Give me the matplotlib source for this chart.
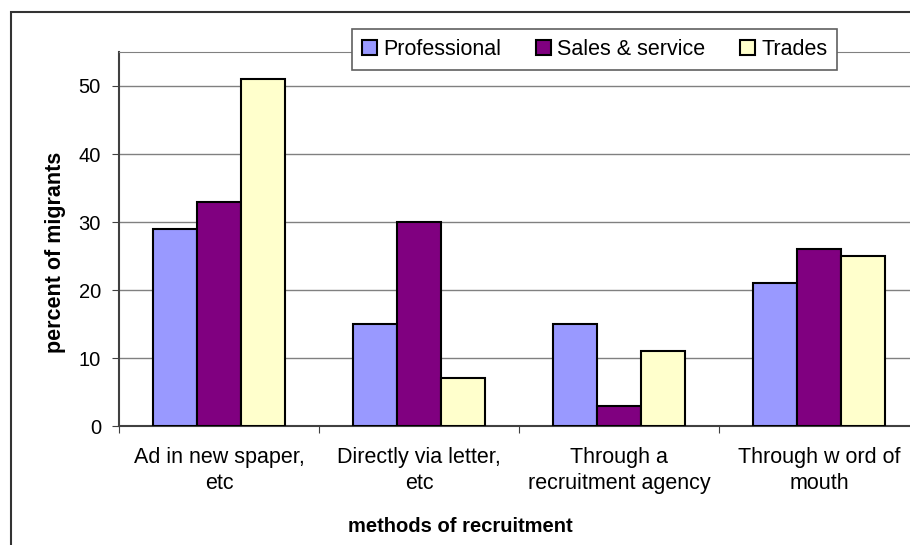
import numpy as np
import matplotlib.pyplot as plt
from matplotlib.patches import Rectangle

plt.rcParams['font.family'] = ['Liberation Sans', 'DejaVu Sans']

metodos = ['Ad in new spaper,\netc', 'Directly via letter,\netc',
           'Through a\nrecruitment agency', 'Through w ord of\nmouth']
series = ['Professional', 'Sales & service', 'Trades']
professional = [29, 15, 15, 21]
sales_service = [33, 30, 3, 26]
trades = [51, 7, 11, 25]
cores = ['#9999FF', '#800080', '#FFFFCC']

fig = plt.figure(figsize=(9.1, 5.45), dpi=100)
ax = fig.add_axes([0.1308, 0.2183, 0.8791, 0.6863])

x = np.arange(len(metodos)) + 0.5
largura = 0.22
for i, (nome, valores) in enumerate(zip(series, [professional, sales_service, trades])):
    ax.bar(x + (i - 1) * largura, valores, largura, color=cores[i],
           edgecolor='black', linewidth=1.5, label=nome, zorder=3)

ax.set_xlim(0, 4)
ax.set_ylim(0, 55)
ax.set_yticks(range(0, 51, 10))
ax.yaxis.grid(True, color='#808080', linewidth=1)
ax.set_axisbelow(True)

# ticks nos limites das categorias, rótulos no centro
ax.set_xticks(range(0, 5))
ax.set_xticklabels([])
ax.set_xticks(x, minor=True)
ax.set_xticklabels(metodos, minor=True, fontsize=15.5, linespacing=1.35)
ax.tick_params(axis='x', which='minor', length=0, pad=15)
ax.tick_params(axis='x', which='major', length=5, color='#404040', direction='out')
ax.tick_params(axis='y', length=5, color='#404040', labelsize=14.5, pad=8)

ax.spines['right'].set_visible(False)
ax.spines['top'].set_color('#808080')
ax.spines['left'].set_color('#404040')
ax.spines['left'].set_linewidth(1.5)
ax.spines['bottom'].set_color('#404040')
ax.spines['bottom'].set_linewidth(1.5)

fig.text(55 / 910, 1 - 252 / 545, 'percent of migrants', rotation=90,
         fontsize=15.5, fontweight='bold', ha='center', va='center')
fig.text(460 / 910, 1 - 527 / 545, 'methods of recruitment',
         fontsize=14.5, fontweight='bold', ha='center', va='center')

leg = fig.legend(loc='center', bbox_to_anchor=(0.6533, 0.9092), ncol=3,
                 fontsize=15.5, fancybox=False, framealpha=1, edgecolor='#606060',
                 handlelength=0.7, handleheight=0.7, handletextpad=0.3,
                 columnspacing=1.6, borderpad=0.45)
leg.get_frame().set_linewidth(1.2)
leg.set_zorder(10)

# moldura externa do gráfico
fig.patches.append(Rectangle((11 / 910, -0.1), 1.2, 1 - 12 / 545 + 0.1,
                             transform=fig.transFigure, fill=False,
                             edgecolor='#333333', linewidth=1.5, zorder=0))

fig.savefig('out.png', dpi=100)
